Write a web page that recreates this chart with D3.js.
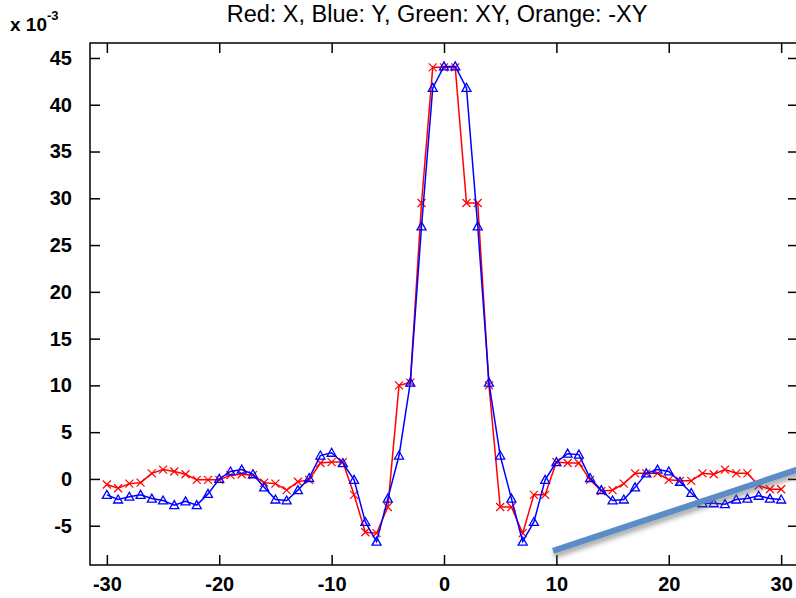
<!DOCTYPE html>
<html>
<head>
<meta charset="utf-8">
<script src="https://cdn.jsdelivr.net/npm/d3@7"></script>
<style>
  html, body { margin: 0; padding: 0; background: #fff; }
  svg { display: block; }
  text { font-family: "Liberation Sans", Arial, sans-serif; fill: #000; }
</style>
</head>
<body>
<svg id="chart" width="796" height="598"></svg>
<script>
// ---- data (values in units of 1e-3) ----
const xValues = [-30,-29,-28,-27,-26,-25,-24,-23,-22,-21,-20,-19,-18,-17,-16,-15,-14,-13,-12,-11,-10,-9,-8,-7,-6,-5,-4,-3,-2,-1,0,1,2,3,4,5,6,7,8,9,10,11,12,13,14,15,16,17,18,19,20,21,22,23,24,25,26,27,28,29,30];
const redX = [-0.6,-1.0,-0.5,-0.4,0.6,1.0,0.8,0.5,-0.1,-0.1,-0.1,0.4,0.5,0.4,-0.4,-0.5,-1.2,-0.3,-0.1,1.7,1.8,1.8,-1.7,-5.7,-5.8,-3.0,10.0,10.3,29.5,44.0,44.0,44.0,29.5,29.5,10.0,-3.0,-3.0,-5.8,-1.7,-1.7,1.8,1.7,1.7,-0.1,-1.3,-1.2,-0.5,0.6,0.6,0.6,-0.1,-0.2,-0.2,0.6,0.5,1.0,0.6,0.6,-0.7,-1.1,-1.1];
const blueY = [-1.7,-2.2,-1.9,-1.7,-2.1,-2.3,-2.8,-2.4,-2.8,-1.6,0.0,0.8,1.0,0.5,-0.9,-2.2,-2.3,-1.2,0.1,2.5,2.8,1.7,-0.1,-4.6,-6.7,-2.1,2.5,10.3,27.0,41.8,44.1,44.1,41.8,27.0,10.3,2.5,-2.1,-6.7,-4.6,-0.1,1.8,2.7,2.6,0.1,-1.2,-2.3,-2.2,-0.9,0.6,1.0,0.8,-0.3,-1.5,-2.6,-2.6,-2.7,-2.2,-2.1,-1.8,-2.1,-2.2];
const xTicks = [-30,-20,-10,0,10,20,30];
const yTicks = [-5,0,5,10,15,20,25,30,35,40,45];
const titleText = "Red: X, Blue: Y, Green: XY, Orange: -XY";
// annotation stroke (overlay), in data coordinates
const annotX = [9.7, 31.7];
const annotY = [-7.7, 1.1];

// ---- layout ----
const svg = d3.select("#chart");
const mLeft = 90, mRight = 798, mTop = 43, mBottom = 565;
const x = d3.scaleLinear().domain([-31.5, 31.5]).range([mLeft, mRight]);
const y = d3.scaleLinear().domain([-9.2, 46.6]).range([mBottom, mTop]);
const fmt = d => String(d);

const defs = svg.append("defs");
const f = defs.append("filter").attr("id", "shadow").attr("x", "-20%").attr("y", "-50%").attr("width", "140%").attr("height", "300%");
f.append("feDropShadow").attr("dx", 1).attr("dy", 4).attr("stdDeviation", 2.5).attr("flood-color", "#555").attr("flood-opacity", 0.55);

// frame
svg.append("rect").attr("x", mLeft).attr("y", mTop).attr("width", mRight - mLeft).attr("height", mBottom - mTop)
  .attr("fill", "none").attr("stroke", "#000").attr("stroke-width", 1.5);

const tickLen = 10;
const gx = svg.append("g").attr("transform", `translate(0,${mBottom})`)
  .call(d3.axisBottom(x).tickValues(xTicks).tickSizeInner(-tickLen).tickSizeOuter(0).tickPadding(12).tickFormat(fmt));
const gxt = svg.append("g").attr("transform", `translate(0,${mTop})`)
  .call(d3.axisTop(x).tickValues(xTicks).tickSizeInner(-tickLen).tickSizeOuter(0).tickFormat(""));
const gy = svg.append("g").attr("transform", `translate(${mLeft},0)`)
  .call(d3.axisLeft(y).tickValues(yTicks).tickSizeInner(-tickLen).tickSizeOuter(0).tickPadding(18).tickFormat(fmt));
const gyr = svg.append("g").attr("transform", `translate(${mRight},0)`)
  .call(d3.axisRight(y).tickValues(yTicks).tickSizeInner(-tickLen).tickSizeOuter(0).tickFormat(""));
[gx, gxt, gy, gyr].forEach(g => {
  g.select(".domain").remove();
  g.selectAll(".tick line").attr("stroke", "#000").attr("stroke-width", 1.5);
  g.selectAll("text").attr("font-family", "Liberation Sans, Arial, sans-serif")
    .attr("font-size", 20).attr("font-weight", "bold").attr("fill", "#000");
});

// exponent label
const ex = svg.append("text").attr("x", 10).attr("y", 31).attr("font-size", 19).attr("font-weight", "bold");
ex.append("tspan").text("x 10");
ex.append("tspan").attr("dy", -11).attr("font-size", 13).text("-3");

// title
svg.append("text").attr("x", 437).attr("y", 22).attr("text-anchor", "middle")
  .attr("font-size", 23.5).text(titleText);

// lines
const lineGen = vals => d3.line().x((d, i) => x(xValues[i])).y(d => y(d))(vals);
const plot = svg.append("g");
plot.append("path").attr("d", lineGen(redX)).attr("fill", "none").attr("stroke", "#ff0000").attr("stroke-width", 1.5);
plot.selectAll(".xm").data(redX).enter().append("path")
  .attr("transform", (d, i) => `translate(${x(xValues[i])},${y(d)})`)
  .attr("d", "M-4,-4L4,4M-4,4L4,-4").attr("stroke", "#ff0000").attr("stroke-width", 1.2).attr("fill", "none");

plot.append("path").attr("d", lineGen(blueY)).attr("fill", "none").attr("stroke", "#0000ff").attr("stroke-width", 1.5);
plot.selectAll(".tm").data(blueY).enter().append("path")
  .attr("transform", (d, i) => `translate(${x(xValues[i])},${y(d)})`)
  .attr("d", "M0,-4.5L4.5,3.5L-4.5,3.5Z").attr("stroke", "#0000ff").attr("stroke-width", 1.3).attr("fill", "none");

// annotation overlay stroke
svg.append("line")
  .attr("x1", x(annotX[0])).attr("y1", y(annotY[0]))
  .attr("x2", x(annotX[1])).attr("y2", y(annotY[1]))
  .attr("stroke", "#5b8cc6").attr("stroke-width", 6).attr("filter", "url(#shadow)");
</script>
</body>
</html>
